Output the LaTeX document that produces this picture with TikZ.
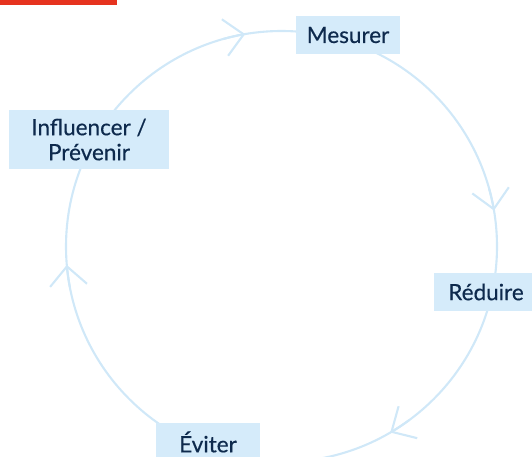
\documentclass[tikz,border=0pt]{standalone}
\usepackage{fontspec}
\setmainfont{Lato}[FakeBold=0.4]
\usetikzlibrary{arrows.meta,calc}
\definecolor{ringc}{HTML}{D0E8F8}
\definecolor{boxc}{HTML}{D5EBFA}
\definecolor{txtc}{HTML}{0E2A4D}
\definecolor{redc}{HTML}{E6331F}
\begin{document}
\begin{tikzpicture}[x=1pt,y=1pt,
  ring/.style={draw=ringc, line width=2.1pt},
  barb/.style={ring, -{Straight Barb[length=19pt,width=37pt,line width=2.1pt]}},
  stage/.style={fill=boxc, text=txtc, font=\fontsize{22.5}{25}\selectfont,
    minimum width=104pt, minimum height=38pt, inner sep=0pt, align=center}]
\useasboundingbox (0,0) rectangle (532,456);
\fill[redc] (0,451) rectangle (117,456);
\coordinate (c) at (281.5,209.5);
\def\R{215.5}
\draw[ring] (c) circle[radius=\R];
\foreach \a in {99.7, 9.6, -59.7, 184.9}{
  \draw[barb] ($(c)+(\a+6:\R)$) arc[start angle=\a+6, end angle=\a, radius=\R];
}
\node[stage] (mes) at (348,421) {Mesurer};
\node[stage] (red) at (486,164) {Réduire};
\node[stage] (evi) at (208,14) {Éviter};
\node[stage, minimum width=160pt, minimum height=59pt] (inf) at (89,316.5) {Influencer /\\Prévenir};
\end{tikzpicture}
\end{document}
